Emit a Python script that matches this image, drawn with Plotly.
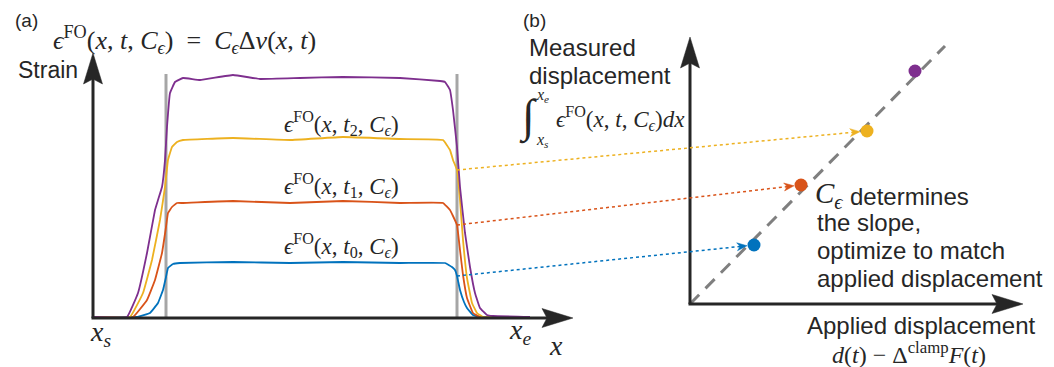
import numpy as np
import plotly.graph_objects as go

# ---------------- data ----------------
# Panel (a): fibre-optic strain profiles along position x at four load times
pos_t0 = [0, 4.4, 5.7, 6.5, 7.0, 7.3, 7.5, 8.0, 8.7, 14.0, 19.7, 25.0, 30.7, 35.2, 35.9, 36.2, 36.4, 36.7, 37.1, 37.4, 38.0, 38.7, 43.7]
strain_t0 = [0.01, 0.01, 0.05, 0.15, 0.28, 0.41, 0.50, 0.54, 0.55, 0.56, 0.55, 0.56, 0.55, 0.55, 0.51, 0.48, 0.42, 0.28, 0.16, 0.10, 0.03, 0.01, 0.01]

pos_t1 = [0, 4.0, 5.4, 6.2, 6.9, 7.3, 7.5, 7.9, 8.4, 9.0, 14.0, 19.7, 25.0, 30.7, 35.0, 35.7, 36.0, 36.4, 36.7, 37.0, 37.4, 38.0, 38.7, 43.7]
strain_t1 = [0.01, 0.01, 0.18, 0.38, 0.65, 0.91, 1.05, 1.11, 1.15, 1.15, 1.17, 1.15, 1.17, 1.15, 1.15, 1.08, 1.02, 0.93, 0.68, 0.43, 0.20, 0.05, 0.01, 0.01]

pos_t2 = [0, 3.7, 5.0, 5.9, 6.7, 7.2, 7.5, 7.9, 8.4, 9.0, 14.0, 19.7, 25.0, 30.7, 35.0, 35.7, 36.0, 36.4, 36.7, 37.0, 37.4, 37.9, 38.4, 39.0, 43.7]
strain_t2 = [0.01, 0.01, 0.25, 0.58, 0.98, 1.31, 1.58, 1.71, 1.76, 1.78, 1.80, 1.78, 1.81, 1.79, 1.78, 1.68, 1.58, 1.48, 1.18, 0.78, 0.40, 0.15, 0.05, 0.01, 0.01]

pos_t3 = [0, 3.4, 4.5, 5.4, 6.2, 6.5, 6.9, 7.2, 7.4, 7.7, 8.2, 9.0, 10.7, 14.0, 16.7, 20.7, 25.0, 30.7, 34.7, 35.2, 35.7, 36.0, 36.4, 36.7, 37.2, 37.7, 38.2, 38.7, 39.4, 40.0, 43.7]
strain_t3 = [0.01, 0.01, 0.25, 0.65, 1.08, 1.18, 1.31, 1.58, 1.91, 2.25, 2.36, 2.40, 2.38, 2.43, 2.39, 2.40, 2.41, 2.40, 2.37, 2.36, 2.28, 2.08, 1.71, 1.31, 0.85, 0.51, 0.25, 0.10, 0.03, 0.02, 0.01]

gauge_pos = [7.3, 36.4]          # clamp boundaries
gauge_top = 2.44

# Panel (b): applied vs measured displacement
applied = [0.64, 1.11, 1.77, 2.25]
measured = [0.59, 1.19, 1.73, 2.33]
fit_applied = [0, 2.55]
fit_measured = [0, 2.58]

time_labels = ["0", "1", "2"]
colors = ["#0072BD", "#D95319", "#EDB120", "#7E2F8E"]

# ---------------- page geometry ----------------
OFF = 8                      # default body margin of the html page
FW, FH = 1054 - OFF, 367 - OFF
A_X0, A_SX, A_Y0, A_SY = 93, 10.0, 318, 100.0
B_X0, B_SX, B_Y0, B_SY = 690, 100.0, 304, 100.0
SPLIT = 600


def a2px(x, y):
    return A_X0 + A_SX * x, A_Y0 - A_SY * y


def b2px(x, y):
    return B_X0 + B_SX * x, B_Y0 - B_SY * y


def P(px, py):
    return (px - OFF) / FW, 1 - (py - OFF) / FH


INK = "#262626"
SANS = "Liberation Sans, Arial, sans-serif"
SERIF = "Liberation Serif, DejaVu Serif, serif"

fig = go.Figure()

gx, gy = [], []
for g in gauge_pos:
    gx += [g, g, None]
    gy += [0, gauge_top, None]
fig.add_trace(go.Scatter(x=gx, y=gy, mode="lines", line=dict(color="#A6A6A6", width=3),
                         xaxis="x", yaxis="y", hoverinfo="skip"))

series = [(pos_t0, strain_t0), (pos_t1, strain_t1), (pos_t2, strain_t2), (pos_t3, strain_t3)]
for (px_, sy_), c in zip(series, colors):
    fig.add_trace(go.Scatter(x=px_, y=sy_, mode="lines", line=dict(color=c, width=1.8, shape="spline", smoothing=0.25),
                             xaxis="x", yaxis="y"))

fig.add_trace(go.Scatter(x=fit_applied, y=fit_measured, mode="lines",
                         line=dict(color="#7F7F7F", width=3, dash="13px,9px"),
                         xaxis="x2", yaxis="y2"))
fig.add_trace(go.Scatter(x=applied, y=measured, mode="markers",
                         marker=dict(color=colors, size=13, line=dict(width=0)),
                         xaxis="x2", yaxis="y2"))

shapes = []
annotations = []


def stealth(tip, d, L=31, Wh=9.5, notch=5, color=INK):
    dx, dy = d
    n = (dx * dx + dy * dy) ** 0.5
    dx, dy = dx / n, dy / n
    qx, qy = -dy, dx
    tx, ty = tip
    pts = [(tx, ty),
           (tx - dx * L + qx * Wh, ty - dy * L + qy * Wh),
           (tx - dx * (L - notch), ty - dy * (L - notch)),
           (tx - dx * L - qx * Wh, ty - dy * L - qy * Wh)]
    path = "M " + " L ".join("%.5f,%.5f" % P(x, y) for x, y in pts) + " Z"
    shapes.append(dict(type="path", path=path, xref="paper", yref="paper",
                       fillcolor=color, line=dict(color=color, width=0.5), layer="above"))


def axis_arrow(origin, tip, L=31):
    ox, oy = origin
    tx, ty = tip
    d = (tx - ox, ty - oy)
    n = (d[0] ** 2 + d[1] ** 2) ** 0.5
    ex, ey = tx - d[0] / n * (L - 6), ty - d[1] / n * (L - 6)
    x0, y0 = P(ox, oy)
    x1, y1 = P(ex, ey)
    shapes.append(dict(type="line", x0=x0, y0=y0, x1=x1, y1=y1, xref="paper", yref="paper",
                       line=dict(color=INK, width=3), layer="above"))
    stealth(tip, d, L=L)


oa = a2px(0, 0)
axis_arrow(oa, (oa[0], 53))
axis_arrow((oa[0] - 1.5, oa[1]), (573, oa[1]))
ob = b2px(0, 0)
axis_arrow(ob, (ob[0], 37))
axis_arrow((ob[0] - 1.5, ob[1]), (1023, ob[1]))

for i in range(3):
    px_, sy_ = series[i]
    s_val = float(np.interp(gauge_pos[1], px_, sy_))
    sx, sy = a2px(gauge_pos[1], s_val)
    cx, cy = b2px(applied[i], measured[i])
    dx, dy = cx - sx, cy - sy
    n = (dx * dx + dy * dy) ** 0.5
    tx, ty = cx - dx / n * 7, cy - dy / n * 7
    ex, ey = tx - dx / n * 6, ty - dy / n * 6
    x0, y0 = P(sx, sy)
    x1, y1 = P(ex, ey)
    shapes.append(dict(type="line", x0=x0, y0=y0, x1=x1, y1=y1, xref="paper", yref="paper",
                       line=dict(color=colors[i], width=1.5, dash="dot")))
    stealth((tx, ty), (dx, dy), L=10, Wh=4, notch=3, color=colors[i])


def text(s, px, py, size, family=SANS, anchor="left"):
    x, y = P(px, py)
    annotations.append(dict(text=s, x=x, y=y, xref="paper", yref="paper", showarrow=False,
                            xanchor=anchor, yanchor="middle",
                            font=dict(size=size, family=family, color=INK)))


EPS = "ϵ"
text("(a)", 13, 20, 19)
text("(b)", 521, 20, 19)
text("<i>%s</i><sup>FO</sup>(<i>x</i>, <i>t</i>, <i>C</i><sub><i>%s</i></sub>)&nbsp;&nbsp;=&nbsp;&nbsp;<i>C</i><sub><i>%s</i></sub>Δ<i>ν</i>(<i>x</i>, <i>t</i>)" % (EPS, EPS, EPS),
     51, 40, 26, SERIF)
text("Strain", 16, 70, 23)
for lab, yy in zip(time_labels, [245, 185, 123]):
    text("<i>%s</i><sup>FO</sup>(<i>x</i>, <i>t</i><sub>%s</sub>, <i>C</i><sub><i>%s</i></sub>)" % (EPS, lab, EPS),
         282, yy, 23, SERIF)
text("<i>x</i><sub><i>s</i></sub>", 88, 333, 28, SERIF)
text("<i>x</i><sub><i>e</i></sub>", 507, 331, 28, SERIF)
text("<i>x</i>", 547, 345, 28, SERIF)

text("Measured", 527, 48, 24)
text("displacement", 527, 75, 24)
text("<i>∫</i>", 517, 117, 46, SERIF)
text("<i>x<sub>e</sub></i>", 534, 95, 16, SERIF)
text("<i>x<sub>s</sub></i>", 534, 141, 16, SERIF)
text("<i>%s</i><sup>FO</sup>(<i>x</i>, <i>t</i>, <i>C</i><sub><i>%s</i></sub>)<i>dx</i>" % (EPS, EPS), 554, 118, 23, SERIF)

text("<i>C</i><sub><i>%s</i></sub>" % EPS, 813, 195, 29, SERIF)
text("determines", 848, 196, 24)
text("the slope,", 815, 222, 24)
text("optimize to match", 815, 250, 24)
text("applied displacement", 815, 278, 24)
text("Applied displacement", 805, 325, 24)
text("<i>d</i>(<i>t</i>) − Δ<sup>clamp</sup><i>F</i>(<i>t</i>)", 830, 353, 24, SERIF)

ax_common = dict(visible=False, showgrid=False, zeroline=False, fixedrange=True)
fig.update_layout(
    width=FW, height=FH, margin=dict(l=0, r=0, t=0, b=0),
    paper_bgcolor="white", plot_bgcolor="rgba(0,0,0,0)", showlegend=False,
    xaxis=dict(domain=[0, (SPLIT - OFF) / FW], range=[(OFF - A_X0) / A_SX, (SPLIT - A_X0) / A_SX], **ax_common),
    yaxis=dict(domain=[0, 1], range=[(A_Y0 - (OFF + FH)) / A_SY, (A_Y0 - OFF) / A_SY], **ax_common),
    xaxis2=dict(domain=[(SPLIT - OFF) / FW, 1], range=[(SPLIT - B_X0) / B_SX, (OFF + FW - B_X0) / B_SX], anchor="y2", **ax_common),
    yaxis2=dict(domain=[0, 1], range=[(B_Y0 - (OFF + FH)) / B_SY, (B_Y0 - OFF) / B_SY], anchor="x2", **ax_common),
    shapes=shapes, annotations=annotations,
)

fig.write_html("out.html")
